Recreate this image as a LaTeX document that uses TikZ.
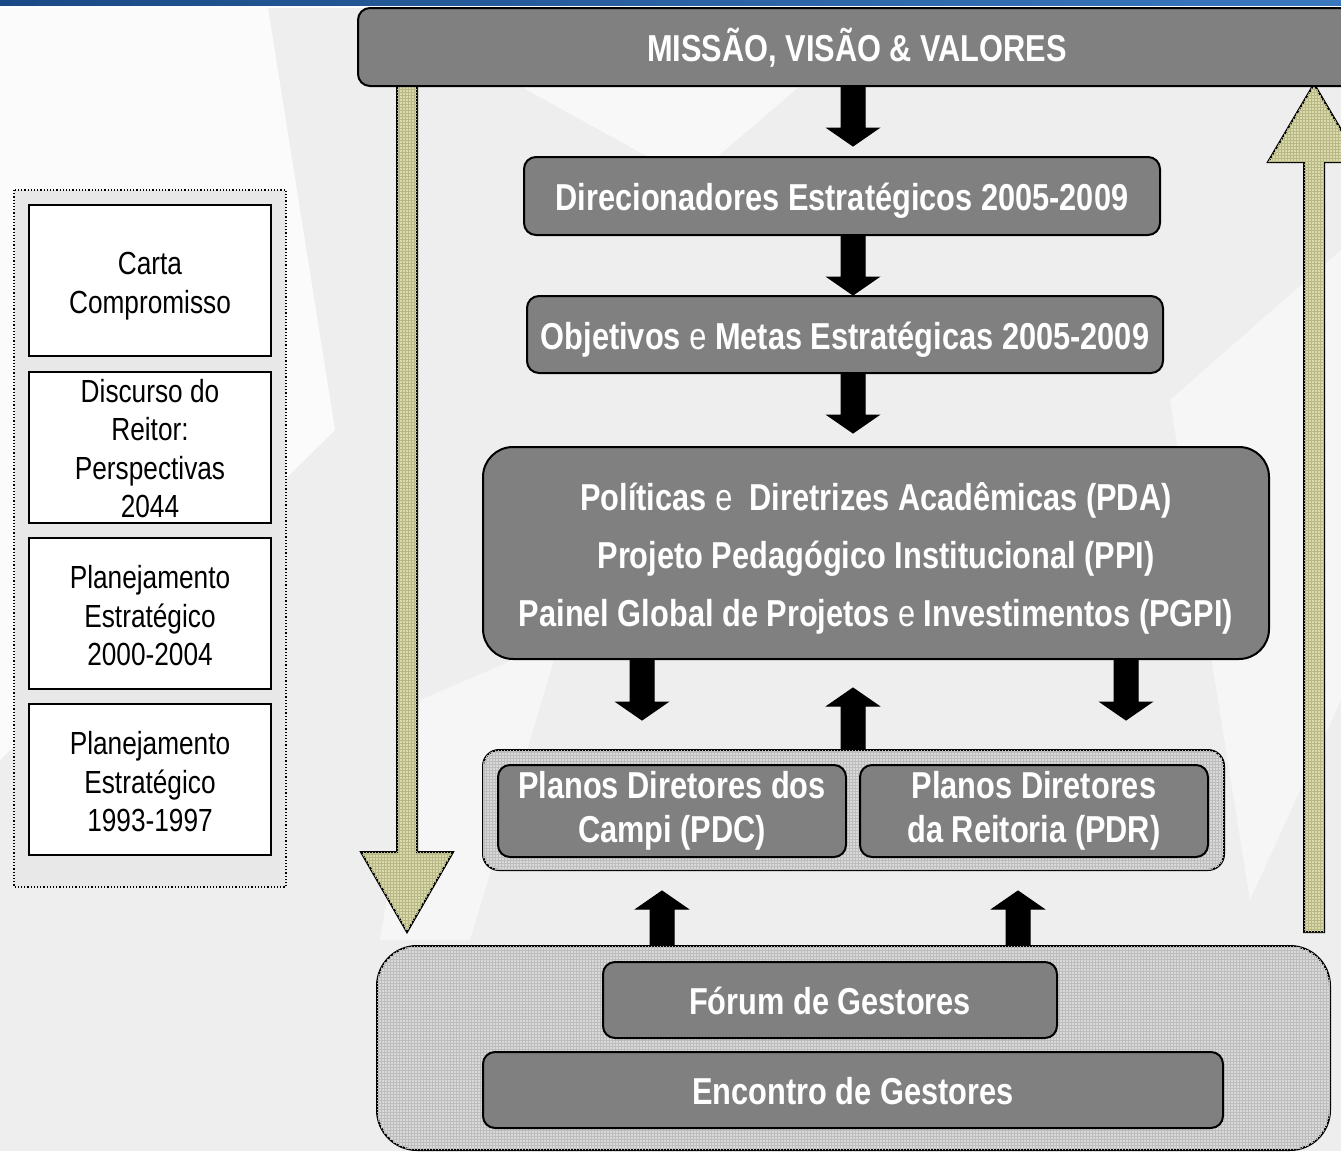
\documentclass[tikz,border=0pt]{standalone}
\usepackage{fontspec}
\setmainfont{Liberation Sans}[FakeStretch=0.82]
\usetikzlibrary{calc,patterns}
\definecolor{boxgray}{HTML}{808080}
\definecolor{holdgray}{HTML}{D9D9D9}
\definecolor{holdgrid}{HTML}{BDBDBD}
\definecolor{khaki}{HTML}{DADAAE}
\definecolor{khakigrid}{HTML}{B8B884}
\definecolor{panelgray}{HTML}{E8E8E8}
\definecolor{bggray}{HTML}{EEEEEE}
\definecolor{banddark}{HTML}{1A4A86}
\definecolor{bandlight}{HTML}{3A78BE}

% vertical block arrow from #1 to #2 (tip at #2)
\newcommand{\blockarrow}[2]{%
  \filldraw[black, line width=1pt] let \p1=(#1), \p2=(#2),
      \n1={(\y2-\y1)/abs(\y2-\y1)} in
    ({\x1-12pt},\y1) -- ({\x1-12pt},{\y2-18pt*\n1}) -- ({\x1-26pt},{\y2-18pt*\n1})
    -- (\x1,\y2) -- ({\x1+26pt},{\y2-18pt*\n1}) -- ({\x1+12pt},{\y2-18pt*\n1})
    -- ({\x1+12pt},\y1) -- cycle;}
% line-box strut for single-line labels: fixed ascent and descent
\newcommand{\linestrut}{\rule[-0.212em]{0pt}{1.212em}}
% extra ascent on the first line of a multi-line label
\newcommand{\firststrut}[1]{\rule{0pt}{#1}}

\begin{document}
\begin{tikzpicture}[x=1pt,y=-1pt,
  panel/.style={draw=black, line width=2pt, fill=boxgray, rounded corners=12pt,
    text=white, font=\bfseries\fontsize{37.5}{44}\selectfont, align=center, inner sep=0pt},
  strutted/.style={execute at begin node=\linestrut, execute at end node=\linestrut},
  holder/.style={draw=black, line width=2pt, fill=holdgray, inner sep=0pt,
    postaction={pattern=grid, pattern color=holdgrid}},
  card/.style={draw=black, line width=1.6pt, fill=white, minimum width=242pt,
    minimum height=151pt, align=center, inner sep=0pt,
    font=\fontsize{32}{38.5}\selectfont},
  hollow/.style={draw=black, line width=2pt, fill=khaki, line join=miter,
    postaction={pattern=grid, pattern color=khakigrid}}]

\useasboundingbox (0,0) rectangle (1341,1151);

% backdrop with soft light swooshes
\fill[bggray] (0,0) rectangle (1341,1151);
\fill[white, opacity=0.8] (0,8) -- (268,8) -- (335,430) -- (0,760) -- cycle;
\fill[white, opacity=0.6] (520,86) -- (800,86) -- (690,180) -- cycle;
\fill[white, opacity=0.5] (420,700) -- (560,640) -- (470,940) -- (380,940) -- cycle;
\fill[white, opacity=0.5] (1170,400) -- (1341,250) -- (1341,700) -- (1250,900) -- cycle;
\shade[left color=banddark, right color=bandlight] (0,0) rectangle (1341,6);
\fill[white] (0,6) rectangle (1341,8);

% left column of reference documents
\draw[dotted, line width=1.2pt, fill=panelgray] (14,190) rectangle (286,887);
\node[card] (carta) at (150,280.5) {\firststrut{1.05em}Carta\\Compromisso};
\node[card] (disc) at (150,447.5) {\firststrut{0.8em}Discurso do\\Reitor:\\Perspectivas\\2044};
\node[card] (pe1) at (150,613.5) {\firststrut{0.86em}Planejamento\\Estratégico\\2000-2004};
\node[card] (pe2) at (150,779.5) {\firststrut{0.86em}Planejamento\\Estratégico\\1993-1997};

% long hollow arrows: deployment (down) and feedback (up)
\draw[hollow] (397,84) -- (417,84) -- (417,852) -- (453,852) -- (407,932)
  -- (361,852) -- (397,852) -- cycle;
\draw[hollow] (1304,932) -- (1324,932) -- (1324,162) -- (1360,162) -- (1314,84)
  -- (1268,162) -- (1304,162) -- cycle;

% main chain
\node[panel, strutted, minimum width=998pt, minimum height=78pt] (miss) at (857,47)
  {MISSÃO, VISÃO \& VALORES};
\node[panel, strutted, minimum width=636pt, minimum height=78pt] (dir) at (842,196)
  {Direcionadores Estratégicos 2005-2009};
\node[panel, strutted, minimum width=636pt, minimum height=77pt] (obj) at (845,334.5)
  {Objetivos {\mdseries e} Metas Estratégicas 2005-2009};
\node[panel, rounded corners=30pt, minimum width=786pt, minimum height=212pt,
  font=\bfseries\fontsize{37.5}{58}\selectfont] (pol) at (876,553)
  {\firststrut{1.04em}Políticas {\mdseries e}\ \ Diretrizes Acadêmicas (PDA)\\
   Projeto Pedagógico Institucional (PPI)\\
   Painel Global de Projetos {\mdseries e} Investimentos (PGPI)};

% master plans
\node[holder, rounded corners=16pt, minimum width=741pt, minimum height=120pt]
  (plans) at (853.5,810) {};
\node[panel, minimum width=348pt, minimum height=92pt] (pdc) at (672,811)
  {Planos Diretores dos\\Campi (PDC)};
\node[panel, minimum width=348pt, minimum height=92pt] (pdr) at (1034,811)
  {Planos Diretores\\da Reitoria (PDR)};

% managers' forums
\node[holder, rounded corners=40pt, minimum width=953pt, minimum height=204pt]
  (gest) at (853.5,1048) {};
\node[panel, strutted, minimum width=454pt, minimum height=76pt] (forum) at (830,1000)
  {Fórum de Gestores};
\node[panel, strutted, minimum width=740pt, minimum height=76pt] (enc) at (853,1090)
  {Encontro de Gestores};

% tips of the black arrows
\coordinate (t1) at (853,146);
\coordinate (t2) at (853,295);
\coordinate (t3) at (853,433);
\coordinate (t4) at (642,720);
\coordinate (t5) at (853,688);
\coordinate (t6) at (1126,720);
\coordinate (t7) at (662,891);
\coordinate (t8) at (1018,891);

\blockarrow{miss.south -| t1}{t1}
\blockarrow{dir.south -| t2}{t2}
\blockarrow{obj.south -| t3}{t3}
\blockarrow{pol.south -| t4}{t4}
\blockarrow{plans.north -| t5}{t5}
\blockarrow{pol.south -| t6}{t6}
\blockarrow{gest.north -| t7}{t7}
\blockarrow{gest.north -| t8}{t8}

\end{tikzpicture}
\end{document}
